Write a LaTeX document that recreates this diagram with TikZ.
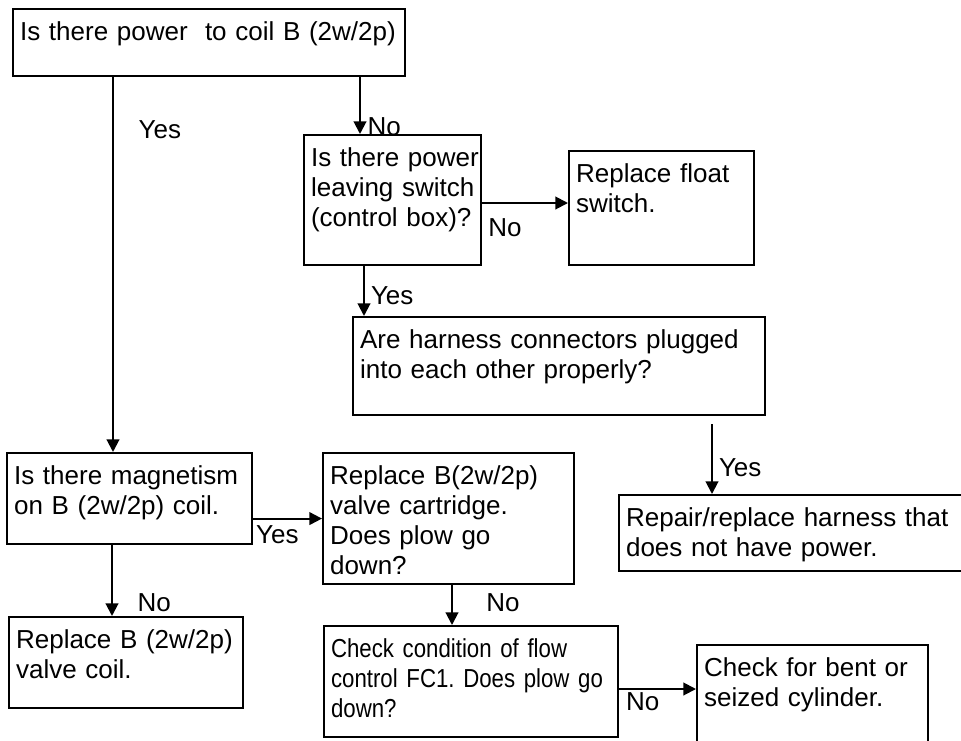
\documentclass[tikz,border=0pt]{standalone}
\usepackage{fontspec}
\setmainfont{Liberation Sans}
\newfontfamily\narrowsans[FakeStretch=0.855]{Liberation Sans}
\usetikzlibrary{arrows.meta, positioning}
\frenchspacing

\begin{document}
\begin{tikzpicture}[x=0.75pt, y=-0.75pt, font=\fontsize{19.5}{22.5}\selectfont]
\useasboundingbox (0,0) rectangle (961,740);
\clip (0,0) rectangle (961,740);

\tikzset{box/.style={draw, line width=1.6pt, anchor=north west, align=left,
  inner xsep=5.25pt, inner ysep=0pt, text height=23.25pt}}
\tikzset{lbl/.style={inner sep=0.5pt}}
\tikzset{flow/.style={-{Triangle[length=9.5pt,width=9.5pt]}, line width=1.5pt}}

\node[box, text width=283.5pt, text depth=27pt] (coil) at (12,8) {Is there power\ \ to coil B (2w/2p)};
\node[box, text width=122.25pt, text depth=74.25pt] (leave) at (303,134) {\mbox{Is there power}\\\mbox{leaving switch}\\\mbox{(control box)?}};
\node[box, text width=128.25pt, text depth=62.25pt] (float) at (568,150) {Replace float\\switch.};
\node[box, text width=298.5pt, text depth=50.25pt] (plug) at (352,316) {Are harness connectors plugged\\into each other properly?};
\node[box, text width=173.25pt, text depth=45pt] (magnet) at (6,452) {Is there magnetism\\on B (2w/2p) coil.};
\node[box, text width=177.75pt, text depth=75pt] (cart) at (322,452) {Replace B(2w/2p)\\valve cartridge.\\Does plow go\\down?};
\node[box, text width=259.5pt, text depth=33.75pt] (repair) at (618,494) {Repair/replace harness that\\does not have power.};
\node[box, text width=165pt, text depth=45pt] (newcoil) at (8,616) {Replace B (2w/2p)\\valve coil.};
\node[box, text width=210pt, text depth=60pt, font=\narrowsans\fontsize{19.5}{22.5}\selectfont] (fc1) at (323,625) {\mbox{Check condition of flow}\\\mbox{control FC1. Does plow go}\\down?};
\node[box, text width=162.75pt, text depth=59.25pt] (cyl) at (696,644) {Check for bent or\\seized cylinder.};

\coordinate (magnet_in) at ([shift={(107,0)}]magnet.north west);
\coordinate (leave_in) at ([shift={(57,0)}]leave.north west);
\coordinate (float_in) at ([shift={(0,53)}]float.north west);
\coordinate (plug_in) at ([shift={(12,0)}]plug.north west);
\coordinate (repair_in) at ([shift={(94,0)}]repair.north west);
\coordinate (newcoil_in) at ([shift={(104,0)}]newcoil.north west);
\coordinate (fc1_in) at ([shift={(129,0)}]fc1.north west);
\coordinate (cyl_in) at ([shift={(0,45)}]cyl.north west);

\path[flow]
	(coil.south -| magnet_in) edge node[lbl, pos=.14, anchor=west, xshift=18pt] {Yes} (magnet_in)
	(coil.south -| leave_in) edge node[lbl, pos=.88, anchor=west, xshift=4.5pt] {No} (leave_in)
	(leave.east |- float_in) edge node[lbl, pos=0, anchor=west, xshift=3.5pt, yshift=-18.75pt] {No} (float_in)
	(leave.south -| plug_in) edge node[lbl, pos=.6, anchor=west, xshift=4pt] {Yes} (plug_in)
	(plug.south -| repair_in) edge[shorten <=6pt] node[lbl, pos=.66, anchor=west, xshift=4pt] {Yes} (repair_in)
	(magnet.east |- cart.west) edge node[lbl, pos=0, anchor=west, xshift=1pt, yshift=-12pt] {Yes} (cart.west)
	(magnet.south -| newcoil_in) edge node[lbl, pos=.81, anchor=west, xshift=18pt] {No} (newcoil_in)
	(cart.south -| fc1_in) edge node[lbl, pos=.45, anchor=west, xshift=24.5pt] {No} (fc1_in)
	(fc1.east |- cyl_in) edge node[lbl, pos=0, anchor=west, xshift=4pt, yshift=-9.75pt] {No} (cyl_in);

\end{tikzpicture}
\end{document}
